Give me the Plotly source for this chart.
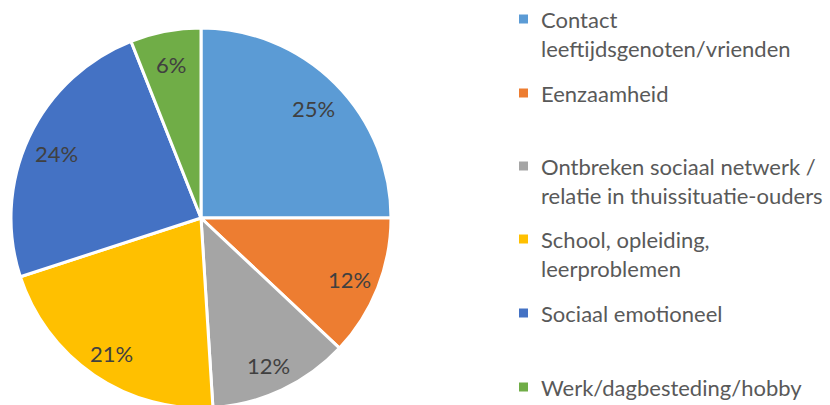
import math
import plotly.graph_objects as go

categories = [
    "Contact leeftijdsgenoten/vrienden",
    "Eenzaamheid",
    "Ontbreken sociaal netwerk / relatie in thuissituatie-ouders",
    "School, opleiding, leerproblemen",
    "Sociaal emotioneel",
    "Werk/dagbesteding/hobby",
]
legend_labels = [
    "Contact<br>leeftijdsgenoten/vrienden",
    "Eenzaamheid",
    "Ontbreken sociaal netwerk /<br>relatie in thuissituatie-ouders",
    "School, opleiding,<br>leerproblemen",
    "Sociaal emotioneel",
    "Werk/dagbesteding/hobby",
]
values = [25, 12, 12, 21, 24, 6]
colors = ["#5B9BD5", "#ED7D31", "#A5A5A5", "#FFC000", "#4472C4", "#70AD47"]

W, H = 830, 410
FONT = "Lato"
CX, CY, R = 201, 218, 190  # pie centre / radius in figure pixels
LABEL_R = 0.84

fig = go.Figure()
fig.add_trace(go.Pie(
    labels=categories,
    values=values,
    sort=False,
    direction="clockwise",
    rotation=0,
    marker=dict(colors=colors, line=dict(color="white", width=3)),
    textinfo="none",
    domain=dict(x=[(CX - R) / W, (CX + R) / W], y=[(H - CY - R) / H, (H - CY + R) / H]),
    showlegend=False,
    hoverinfo="label+percent",
))

# data labels placed at the mid-angle of each slice
total = sum(values)
cum = 0
for v in values:
    mid = (cum + v / 2) / total * 2 * math.pi
    cum += v
    px = CX + LABEL_R * R * math.sin(mid)
    py = CY - LABEL_R * R * math.cos(mid) + 3
    fig.add_annotation(x=px / W, y=1 - py / H, xref="paper", yref="paper",
                       text=f"{round(v / total * 100)}%", showarrow=False,
                       xanchor="center", yanchor="middle",
                       font=dict(family=FONT, size=22, color="#404040"))

# legend drawn as text entries with colored squares
legend_top = [19, 93, 166, 239, 313, 387]  # pixel y of first line centre
for lab, col, yt in zip(legend_labels, colors, legend_top):
    yp = 1 - yt / H
    fig.add_shape(type="rect", xref="paper", yref="paper",
                  x0=519 / W, x1=528 / W, y0=yp - 4.5 / H, y1=yp + 4.5 / H,
                  fillcolor=col, line=dict(width=0))
    fig.add_annotation(x=539 / W, y=(yp + 15 / H), xref="paper", yref="paper",
                       xanchor="left", yanchor="top", align="left",
                       text=lab, showarrow=False,
                       font=dict(family=FONT, size=22, color="#595959"))

fig.update_layout(
    width=W, height=H,
    margin=dict(l=0, r=0, t=0, b=0),
    paper_bgcolor="white", plot_bgcolor="white",
    showlegend=False,
)
fig.write_html("out.html", config={"displayModeBar": False},
               post_script="document.body.style.margin='0';")
